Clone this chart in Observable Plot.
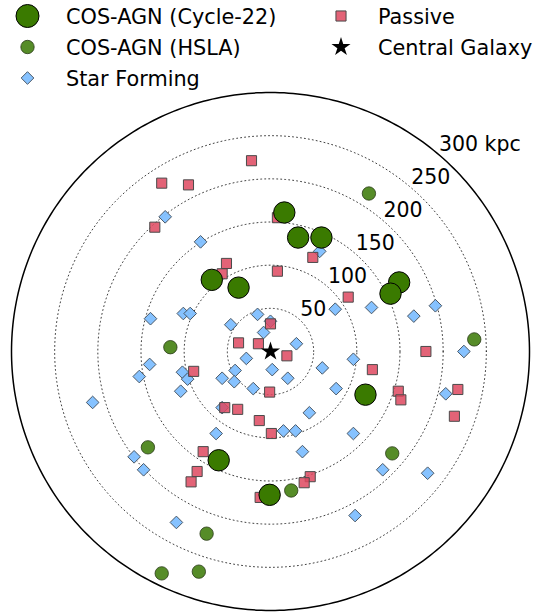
<!DOCTYPE html>
<html><head><meta charset="utf-8">
<script src="https://cdn.jsdelivr.net/npm/d3@7"></script>
<script src="https://cdn.jsdelivr.net/npm/@observablehq/plot@0.6"></script>
<style>
body{margin:0;background:#fff;}
#wrap{position:relative;width:543px;height:614px;font-family:"DejaVu Sans",sans-serif;}
#wrap svg{position:absolute;left:0;top:0;}
</style></head><body><div id="wrap"></div>
<script>
// ring radii (kpc) and labels
const ringRadii = [50, 100, 150, 200, 250];
const outerRadius = 300;
const ringLabels = ["50", "100", "150", "200", "250", "300 kpc"];

// projected offsets from the central galaxy (kpc): [x, y]
const agnCycle22 = [[16,161],[32,132],[59,132],[-68,83],[-37,74],[149,80],[139,67],[110,-50],[-60,-126],[-1,-166]];
const agnHSLA = [[114,183],[236,14],[-116,5],[-142,-111],[141,-118],[24,-161],[-74,-211],[-126,-257],[-83,-255]];
const passive = [[-22,221],[-126,195],[-95,193],[-134,144],[8,155],[49,109],[-51,102],[-56,90],[8,93],[90,63],
  [0,32],[-37,10],[-14,9],[19,-5],[-89,-23],[-1,-47],[-53,-65],[-38,-67],[-13,-80],[1,-95],
  [-78,-116],[-85,-139],[-92,-151],[-12,-169],[118,-21],[180,0],[148,-46],[151,-56],[217,-44],[213,-75],
  [46,-145],[39,-152]];
const starForming = [[-122,156],[-81,127],[57,116],[-139,38],[-101,44],[-93,44],[-46,31],[-15,43],[0,35],[-8,22],
  [30,9],[75,49],[117,51],[166,41],[191,53],[-28,-8],[2,-21],[20,-31],[60,-19],[96,-9],
  [-41,-22],[-56,-31],[-42,-35],[-20,-43],[76,-43],[-56,-65],[45,-71],[-63,-95],[15,-92],[29,-92],
  [96,-95],[37,-116],[-140,-15],[-152,-29],[-102,-24],[-96,-32],[-104,-46],[-206,-59],[-158,-122],[-147,-137],
  [-109,-198],[224,0],[203,-49],[130,-137],[182,-141],[98,-190]];
const central = [[0,0]];

const styles = {
  big:     {symbol:"circle",   r:10.7, fill:"#3a7a00", stroke:"#000", strokeWidth:1, fillOpacity:1},
  hsla:    {symbol:"circle",   r:6.7,  fill:"#568c28", stroke:"#2a3a18", strokeWidth:0.8, fillOpacity:1},
  sf:      {symbol:"diamond2", r:5.7,  fill:"#7fbfff", stroke:"#4a5866", strokeWidth:1, fillOpacity:0.95},
  passive: {symbol:"square",   r:5.7,  fill:"#de485f", stroke:"#4a4a4a", strokeWidth:1, fillOpacity:0.85},
  central: {symbol:"star",     r:6.0,  fill:"#000", stroke:"none", strokeWidth:0, fillOpacity:1}
};

const legendItems = [
  {label:"COS-AGN (Cycle-22)", kind:"big", col:0, row:0},
  {label:"COS-AGN (HSLA)", kind:"hsla", col:0, row:1},
  {label:"Star Forming", kind:"sf", col:0, row:2},
  {label:"Passive", kind:"passive", col:1, row:0},
  {label:"Central Galaxy", kind:"central", col:1, row:1}
];

const deg = Math.PI / 180;
const allRings = [...ringRadii, outerRadius];
const angles = d3.range(0, 361, 1);
const ringPts = ringRadii.flatMap(r => angles.map(a => ({r, x: r*Math.cos(a*deg), y: r*Math.sin(a*deg)})));
const outerPts = angles.map(a => ({x: outerRadius*Math.cos(a*deg), y: outerRadius*Math.sin(a*deg)}));
const labelAngle = 50 * deg;
const labelData = allRings.map((r, i) => ({r, text: ringLabels[i]}));

function dots(data, kind) {
  const s = styles[kind];
  return Plot.dot(data, {x: d => d[0], y: d => d[1], symbol: s.symbol, r: s.r, fill: s.fill,
    fillOpacity: s.fillOpacity, stroke: s.stroke, strokeWidth: s.strokeWidth});
}

const chart = Plot.plot({
  width: 543, height: 614, margin: 0,
  x: {domain: [-outerRadius, outerRadius], range: [11, 529], axis: null},
  y: {domain: [-outerRadius, outerRadius], range: [610, 92], axis: null},
  style: {fontFamily: "DejaVu Sans, sans-serif", background: "transparent", overflow: "visible"},
  marks: [
    Plot.line(ringPts, {x: "x", y: "y", z: "r", stroke: "#000", strokeWidth: 1, strokeDasharray: "1,3", strokeOpacity: 0.75}),
    Plot.line(outerPts, {x: "x", y: "y", stroke: "#000", strokeWidth: 1.5}),
    Plot.text(labelData, {x: d => (d.r + 3.5) * Math.cos(labelAngle), y: d => (d.r + 3.5) * Math.sin(labelAngle),
      text: "text", textAnchor: "start", lineAnchor: "bottom", fontSize: 20.5, fill: "#000"}),
    dots(starForming, "sf"),
    dots(passive, "passive"),
    dots(agnHSLA, "hsla"),
    dots(agnCycle22, "big"),
    dots(central, "central")
  ]
});
document.getElementById("wrap").appendChild(chart);

// legend overlay
const colX = [27.5, 341], textX = [66, 378], rowY = [16, 47, 78];
const symMap = {circle: d3.symbolCircle, diamond2: d3.symbolDiamond2, square: d3.symbolSquare, star: d3.symbolStar};
const leg = d3.select("#wrap").append("svg").attr("width", 543).attr("height", 100);
const g = leg.selectAll("g").data(legendItems).join("g");
g.append("path")
  .attr("transform", d => `translate(${colX[d.col]},${rowY[d.row]})`)
  .attr("d", d => { const s = styles[d.kind]; const rr = d.kind === "big" ? s.r + 0.8 : s.r; return d3.symbol(symMap[s.symbol], rr*rr*Math.PI)(); })
  .attr("fill", d => styles[d.kind].fill)
  .attr("fill-opacity", d => styles[d.kind].fillOpacity)
  .attr("stroke", d => styles[d.kind].stroke)
  .attr("stroke-width", d => styles[d.kind].strokeWidth);
g.append("text")
  .attr("x", d => textX[d.col]).attr("y", d => rowY[d.row] + 7.6)
  .attr("font-family", "DejaVu Sans, sans-serif").attr("font-size", 20.8).attr("fill", "#000")
  .text(d => d.label);
</script>
</body></html>
